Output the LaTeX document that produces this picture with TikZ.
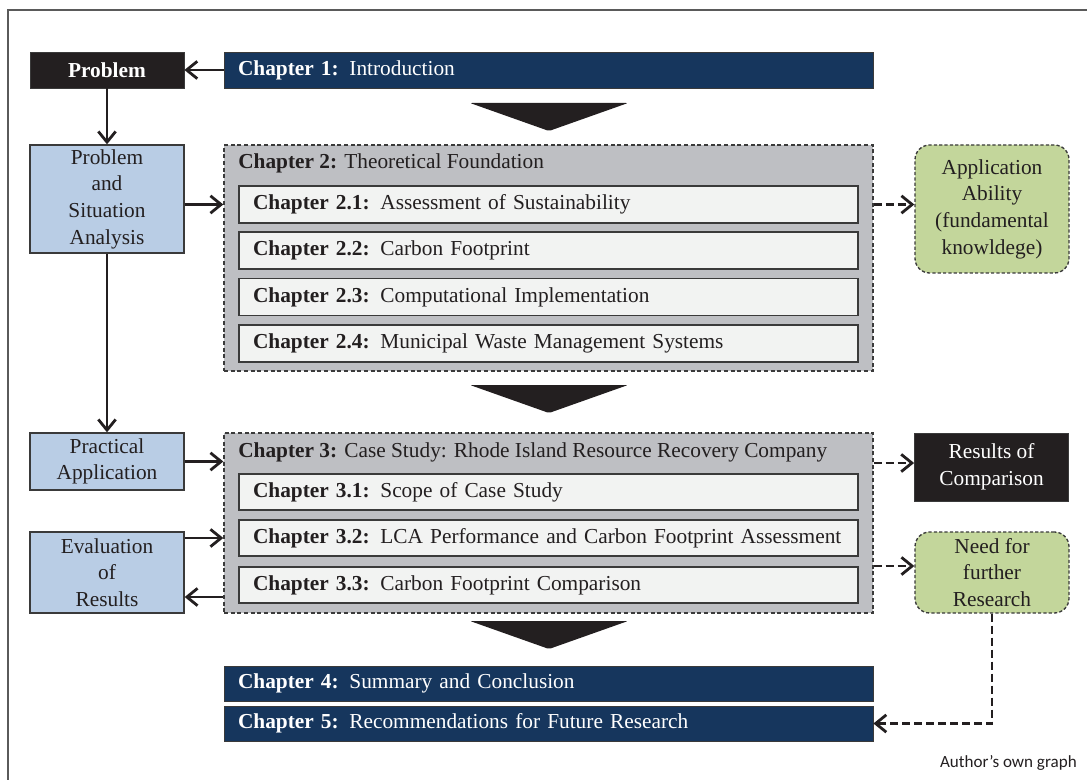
\documentclass[tikz,border=0pt]{standalone}
\usepackage{fontspec}
\setmainfont{Liberation Serif}
\newfontfamily\notefont{Carlito}
\usetikzlibrary{arrows.meta}

\definecolor{ink}{RGB}{35,31,32}
\definecolor{navy}{RGB}{22,54,93}
\definecolor{paleblue}{RGB}{185,205,229}
\definecolor{palegreen}{RGB}{195,214,155}
\definecolor{panel}{RGB}{190,191,195}
\definecolor{sheet}{RGB}{242,243,242}
\definecolor{edge}{RGB}{58,58,58}
\definecolor{framegray}{RGB}{90,90,90}

\tikzset{
  every node/.style={font=\fontsize{16}{20}\selectfont, text=ink, inner ysep=0pt},
  chapbar/.style={draw=edge, line width=0.6pt, fill=navy, text=white,
    minimum height=27pt, text width=465.75pt, inner xsep=10.5pt, align=left},
  darkbox/.style={draw=edge, line width=0.6pt, fill=ink, text=white,
    minimum width=115.5pt, align=center, inner xsep=0pt},
  stepbox/.style={draw=edge, line width=1pt, fill=paleblue,
    minimum width=115.5pt, align=center, inner xsep=0pt},
  outcome/.style={draw=edge, line width=1pt, dash pattern=on 2.4pt off 1.6pt,
    fill=palegreen, rounded corners=11pt, minimum width=115.5pt, align=center, inner xsep=0pt},
  panelbox/.style={draw=edge, line width=1pt, dash pattern=on 3pt off 2pt,
    fill=panel, minimum width=486.75pt},
  subbox/.style={draw=edge, line width=1.1pt, fill=sheet,
    minimum height=27.75pt, text width=443.25pt, inner xsep=10.5pt, align=left},
  arr/.style={draw=ink, line width=2.1pt, -{Straight Barb[length=8pt,width=13pt,line width=2.1pt]}},
  darr/.style={arr, dash pattern=on 6pt off 3pt},
  chevron/.style={fill=ink, rounded corners=1.5pt},
}

\begin{document}
\begin{tikzpicture}[x=0.75pt, y=-0.75pt]
\useasboundingbox (0,0) rectangle (1087,780);

% outer frame
\draw[framegray, line width=1.3pt] (8,780) -- (8,10) -- (1087,10);

% chapter 1
\node[darkbox, minimum height=27pt] (prob) at (107,70) {\textbf{Problem}};
\node[chapbar] (ch1) at (548.5,70) {\textbf{Chapter 1:} Introduction};
\fill[chevron] (470,103) -- (628,103) -- (549,131) -- cycle;

% chapter 2
\node[panelbox, minimum height=169.5pt] (ch2) at (548.5,258) {};
\node[anchor=west, inner xsep=0pt] (t2) at (238,163) {\textbf{Chapter 2:} Theoretical Foundation};
\node[subbox] (ch21) at (548.5,204.5) {\textbf{Chapter 2.1:} Assessment of Sustainability};
\node[subbox] (ch22) at (548.5,250.5) {\textbf{Chapter 2.2:} Carbon Footprint};
\node[subbox] (ch23) at (548.5,297) {\textbf{Chapter 2.3:} Computational Implementation};
\node[subbox] (ch24) at (548.5,343.5) {\textbf{Chapter 2.4:} Municipal Waste Management Systems};

\node[stepbox, minimum height=81pt] (pa) at (107,199) {Problem\\and\\Situation\\Analysis};
\node[outcome, minimum height=96pt] (app) at (992,209) {Application\\Ability\\(fundamental\\knowldege)};

\fill[chevron] (470,385) -- (628,385) -- (549,413) -- cycle;

% chapter 3
\node[panelbox, minimum height=135pt] (ch3) at (548.5,523) {};
\node[anchor=west, inner xsep=0pt] (t3) at (238,452) {\textbf{Chapter 3:} Case Study: Rhode Island Resource Recovery Company};
\node[subbox, minimum height=27pt] (ch31) at (548.5,492) {\textbf{Chapter 3.1:} Scope of Case Study};
\node[subbox, minimum height=27pt] (ch32) at (548.5,538) {\textbf{Chapter 3.2:} LCA Performance and Carbon Footprint Assessment};
\node[subbox, minimum height=27pt] (ch33) at (548.5,585) {\textbf{Chapter 3.3:} Carbon Footprint Comparison};

\node[stepbox, minimum height=42.75pt] (prac) at (107,461.5) {Practical\\Application};
\node[stepbox, minimum height=60.75pt] (eval) at (107,572.5) {Evaluation\\of\\Results};
\node[darkbox, minimum height=51pt] (res) at (991.5,467) {Results of\\Comparison};
\node[outcome, minimum height=60.75pt] (need) at (992,572.5) {Need for\\further\\Research};

\fill[chevron] (470,621) -- (628,621) -- (549,649) -- cycle;

% chapters 4 and 5
\node[chapbar, minimum height=26.25pt] (ch4) at (548.5,683.5) {\textbf{Chapter 4:} Summary and Conclusion};
\node[chapbar, minimum height=26.25pt] (ch5) at (548.5,723.5) {\textbf{Chapter 5:} Recommendations for Future Research};

\node[anchor=east, inner xsep=0pt, font=\notefont\fontsize{12.8}{15}\selectfont, text=ink] (src) at (1077,763) {Author’s own graph};

% connectors
\draw[arr] (ch1.west) -- (prob.east);
\draw[arr] (prob.south) -- (pa.north);
\draw[arr] (pa.east |- ch21) -- (ch2.west |- ch21);
\draw[arr] (pa.south) -- (prac.north);
\draw[arr] (prac.east) -- (ch3.west |- prac.east);
\draw[arr] (eval.east |- ch32) -- (ch3.west |- ch32);
\draw[arr] (ch3.west |- 0,597) -- (eval.east |- 0,597);

\draw[darr] (ch2.east |- ch21) -- (app.west |- ch21);
\draw[darr] (ch3.east |- 0,463) -- (res.west |- 0,463);
\draw[darr] (ch3.east |- 0,566) -- (need.west |- 0,566);
\draw[darr] (need.south) -- (need.south |- ch5) -- (ch5.east);
\end{tikzpicture}
\end{document}
